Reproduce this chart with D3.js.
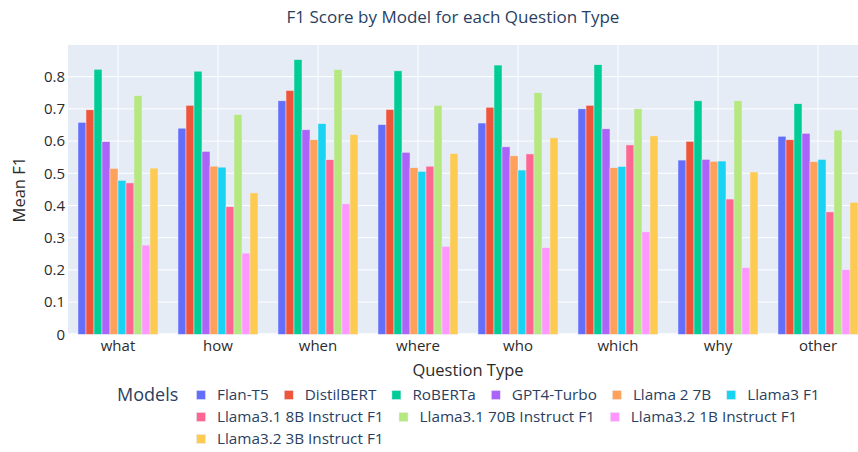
<!DOCTYPE html>
<html lang="en">
<head>
    <meta charset="UTF-8">
    <title>F1 Score by Model for each Question Type</title>
    <script src="https://d3js.org/d3.v7.min.js"></script>
    <style>
        body { margin: 0; background: #fff; }
        svg { display: block; font-family: "Open Sans", "DejaVu Sans", sans-serif; }
        .tick-label { fill: #2b2b2b; font-size: 15px; }
        .axis-title { fill: #2b2b2b; font-size: 16.5px; }
        .legend-text { fill: #2a3f5f; font-size: 15.3px; }
    </style>
</head>
<body>
    <svg id="chart" width="858" height="452"></svg>

    <script>
        // categories on the x axis
        const questionTypes = ['what', 'how', 'when', 'where', 'who', 'which', 'why', 'other'];

        // model names and colours (plotly default palette)
        const modelNames = ['Flan-T5', 'DistilBERT', 'RoBERTa', 'GPT4-Turbo', 'Llama 2 7B', 'Llama3 F1',
            'Llama3.1 8B Instruct F1', 'Llama3.1 70B Instruct F1', 'Llama3.2 1B Instruct F1', 'Llama3.2 3B Instruct F1'];
        const modelColors = ['#636efa', '#EF553B', '#00cc96', '#ab63fa', '#FFA15A', '#19d3f3',
            '#FF6692', '#B6E880', '#FF97FF', '#FECB52'];

        // mean F1 per question type, one array per model
        const flanT5      = [0.658, 0.640, 0.725, 0.651, 0.656, 0.700, 0.541, 0.615];
        const distilBert  = [0.697, 0.711, 0.757, 0.698, 0.705, 0.711, 0.599, 0.604];
        const roberta     = [0.823, 0.817, 0.853, 0.818, 0.836, 0.837, 0.725, 0.716];
        const gpt4Turbo   = [0.598, 0.568, 0.635, 0.565, 0.582, 0.638, 0.543, 0.624];
        const llama2_7b   = [0.515, 0.522, 0.604, 0.517, 0.554, 0.517, 0.537, 0.536];
        const llama3      = [0.478, 0.519, 0.654, 0.506, 0.510, 0.521, 0.538, 0.543];
        const llama31_8b  = [0.470, 0.396, 0.542, 0.522, 0.560, 0.588, 0.420, 0.380];
        const llama31_70b = [0.741, 0.682, 0.822, 0.711, 0.750, 0.700, 0.725, 0.634];
        const llama32_1b  = [0.277, 0.252, 0.405, 0.273, 0.269, 0.318, 0.207, 0.201];
        const llama32_3b  = [0.516, 0.439, 0.620, 0.561, 0.610, 0.616, 0.504, 0.410];

        const yTicks = [0, 0.1, 0.2, 0.3, 0.4, 0.5, 0.6, 0.7, 0.8];

        const seriesValues = [flanT5, distilBert, roberta, gpt4Turbo, llama2_7b, llama3,
            llama31_8b, llama31_70b, llama32_1b, llama32_3b];
        const series = modelNames.map((name, i) => ({ name: name, color: modelColors[i], values: seriesValues[i] }));

        const svg = d3.select('#chart');

        // plot area (the right edge runs past the picture, as in the original)
        const plotLeft = 68, plotRight = 868, plotTop = 45, plotBottom = 334.3;

        const x = d3.scaleBand()
            .domain(questionTypes)
            .range([plotLeft, plotRight])
            .paddingInner(0.2)
            .paddingOuter(0.1);

        const xInner = d3.scaleBand()
            .domain(modelNames)
            .range([0, x.bandwidth()]);

        const y = d3.scaleLinear()
            .domain([0, 0.8983])
            .range([plotBottom, plotTop]);

        // background
        svg.append('rect')
            .attr('x', plotLeft)
            .attr('y', plotTop)
            .attr('width', plotRight - plotLeft)
            .attr('height', plotBottom - plotTop)
            .attr('fill', '#E5ECF6');

        // horizontal grid
        svg.append('g')
            .selectAll('line')
            .data(yTicks)
            .enter().append('line')
            .attr('x1', plotLeft)
            .attr('x2', plotRight)
            .attr('y1', d => y(d))
            .attr('y2', d => y(d))
            .attr('stroke', '#fff')
            .attr('stroke-width', d => d === 0 ? 2 : 1);

        // vertical grid at category centres
        svg.append('g')
            .selectAll('line')
            .data(questionTypes)
            .enter().append('line')
            .attr('x1', d => x(d) + x.bandwidth() / 2)
            .attr('x2', d => x(d) + x.bandwidth() / 2)
            .attr('y1', plotTop)
            .attr('y2', plotBottom)
            .attr('stroke', '#fff')
            .attr('stroke-width', 1);

        // bars
        const groups = svg.append('g')
            .selectAll('g')
            .data(series)
            .enter().append('g')
            .attr('fill', d => d.color);

        groups.selectAll('rect')
            .data(d => d.values.map((v, i) => ({ model: d.name, q: questionTypes[i], value: v })))
            .enter().append('rect')
            .attr('x', d => x(d.q) + xInner(d.model))
            .attr('y', d => y(d.value))
            .attr('width', xInner.bandwidth())
            .attr('height', d => y(0) - y(d.value))
            .attr('stroke', '#E5ECF6')
            .attr('stroke-width', 0.5);

        // y tick labels
        svg.append('g')
            .selectAll('text')
            .data(yTicks)
            .enter().append('text')
            .attr('class', 'tick-label')
            .attr('x', 65)
            .attr('y', d => y(d))
            .attr('dy', '0.36em')
            .attr('text-anchor', 'end')
            .text(d => d === 0 ? '0' : d3.format('.1f')(d));

        // x tick labels
        svg.append('g')
            .selectAll('text')
            .data(questionTypes)
            .enter().append('text')
            .attr('class', 'tick-label')
            .attr('x', d => x(d) + x.bandwidth() / 2)
            .attr('y', 351)
            .attr('text-anchor', 'middle')
            .text(d => d);

        // axis titles
        svg.append('text')
            .attr('class', 'axis-title')
            .attr('x', (plotLeft + plotRight) / 2)
            .attr('y', 376)
            .attr('text-anchor', 'middle')
            .text('Question Type');

        svg.append('text')
            .attr('class', 'axis-title')
            .attr('transform', `translate(25, ${(plotTop + plotBottom) / 2}) rotate(-90)`)
            .attr('text-anchor', 'middle')
            .text('Mean F1');

        // chart title
        svg.append('text')
            .attr('x', 453)
            .attr('y', 23)
            .attr('text-anchor', 'middle')
            .attr('fill', '#2a3f5f')
            .attr('font-size', '17px')
            .text('F1 Score by Model for each Question Type');

        // legend, wrapped into rows like plotly does
        const legend = svg.append('g');
        legend.append('text')
            .attr('x', 117)
            .attr('y', 401)
            .attr('fill', '#2a3f5f')
            .attr('font-size', '18px')
            .text('Models');

        const legendStart = 201, legendMaxX = 850, rowGap = 22;
        let cx = legendStart, cy = 395;
        series.forEach(s => {
            const item = legend.append('g');
            const label = item.append('text')
                .attr('class', 'legend-text')
                .attr('dy', '0.35em')
                .text(s.name);
            const w = label.node().getComputedTextLength();
            if (cx !== legendStart && cx + 16 + w > legendMaxX) {
                cx = legendStart;
                cy += rowGap;
            }
            label.attr('x', cx + 16).attr('y', cy);
            item.append('rect')
                .attr('x', cx - 4.5)
                .attr('y', cy - 4.5)
                .attr('width', 9)
                .attr('height', 9)
                .attr('fill', s.color)
                .attr('stroke', '#E5ECF6')
                .attr('stroke-width', 0.5);
            cx += 16 + w + 20;
        });
    </script>
</body>
</html>
